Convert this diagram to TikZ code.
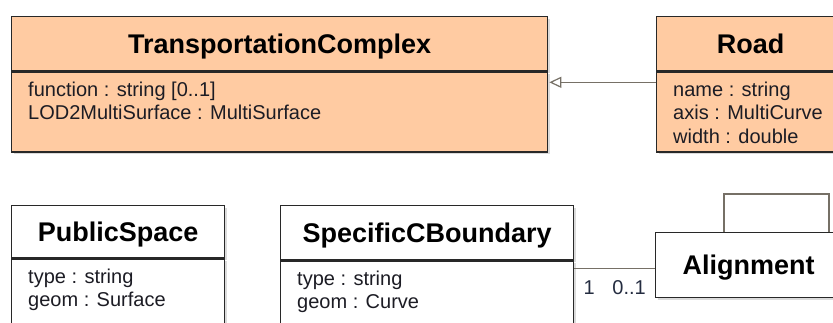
\documentclass[tikz,border=0pt]{standalone}
\usepackage{fontspec}
\setmainfont{Liberation Sans}
\usetikzlibrary{arrows.meta}
\usetikzlibrary{shadows}
\usetikzlibrary{positioning}

\definecolor{classfill}{RGB}{255,203,162}
\definecolor{classline}{RGB}{40,40,40}
\definecolor{linkline}{RGB}{118,112,102}
\definecolor{attrtext}{RGB}{28,28,36}
\definecolor{multtext}{RGB}{36,44,64}

\newcommand{\attrs}[1]{\begin{tabular}[t]{@{}l@{}}#1\end{tabular}}

\begin{document}
\begin{tikzpicture}[x=1pt, y=-1pt,
    classbox/.style={draw=classline, line width=1.3pt, rectangle, inner sep=0pt, anchor=north west,
        drop shadow={shadow xshift=2pt, shadow yshift=-2pt, fill=black!28}},
    classtitle/.style={classbox, text height=19.3pt, text depth=0pt,
        font=\fontsize{27}{32}\selectfont\bfseries},
    attr/.style={inner sep=0pt, anchor=base west, text=attrtext, font=\fontsize{20}{23.5}\selectfont},
    mult/.style={inner sep=0pt, text=multtext, font=\fontsize{20}{23.5}\selectfont},
    genlink/.style={draw=linkline, line width=1.2pt, -{Triangle[open, length=12pt, width=11pt]}},
    assoc/.style={draw=linkline, line width=1.2pt}]

    \clip (0,0) rectangle (833,322);

    \node[classtitle, fill=classfill, minimum width=536, minimum height=54] (tc) at (11,16) {TransportationComplex};
    \node[classbox, fill=classfill, minimum width=536, minimum height=80] (tcbody) at (tc.south west) {};
    \node[attr] (tcattr) at ([shift={(17,25)}]tcbody.north west) {\attrs{function : string [0..1]\\LOD2MultiSurface : MultiSurface}};

    \node[classtitle, fill=classfill, minimum width=188, minimum height=54] (road) at (656,16) {Road};
    \node[classbox, fill=classfill, minimum width=188, minimum height=80] (roadbody) at (road.south west) {};
    \node[attr] (roadattr) at ([shift={(17,25)}]roadbody.north west) {\attrs{name : string\\axis : MultiCurve\\width : double}};

    \node[classtitle, fill=white, minimum width=213, minimum height=52] (pubspace) at (11,205) {PublicSpace};
    \node[classbox, fill=white, minimum width=213, minimum height=130] (pubspacebody) at (pubspace.south west) {};
    \node[attr] (pubspaceattr) at ([shift={(17,25)}]pubspacebody.north west) {\attrs{type : string\\geom : Surface}};

    \node[classtitle, fill=white, minimum width=293, minimum height=54] (scb) at (280,205) {SpecificCBoundary};
    \node[classbox, fill=white, minimum width=293, minimum height=130] (scbbody) at (scb.south west) {};
    \node[attr] (scbattr) at ([shift={(17,25)}]scbbody.north west) {\attrs{type : string\\geom : Curve}};

    \node[classtitle, fill=white, minimum width=186, minimum height=65] (align) at (655,232) {Alignment};

    \draw[genlink] ([shift={(0,11)}]roadbody.north west) -- ([shift={(1,11)}]tcbody.north east);

    \coordinate (scbend) at ([shift={(0,8)}]scbbody.north east);
    \coordinate (alignend) at (scbend -| align.west);
    \draw[assoc] (scbend) -- (alignend);
    \node[mult, anchor=base] (multscb) at ([shift={(15,26)}]scbend) {1};
    \node[mult, anchor=base east] (multalign) at ([shift={(-9,26)}]alignend) {0..1};

    \draw[assoc] ([shift={(69,0)}]align.north west) |- ([shift={(174,-38)}]align.north west) -- ([shift={(174,0)}]align.north west);

\end{tikzpicture}
\end{document}
